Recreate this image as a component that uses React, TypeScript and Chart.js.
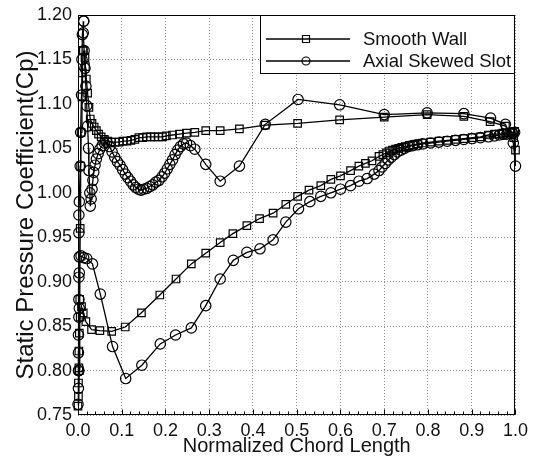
import React, { useEffect, useRef } from 'react';
import { Chart, registerables } from 'chart.js';

Chart.register(...registerables);

const FONT = '"Liberation Sans", Arial, Helvetica, sans-serif';

const seriesNames = ['Smooth Wall', 'Axial Skewed Slot'];
const xTitle = 'Normalized Chord Length';
const yTitle = 'Static Pressure Coefficient(Cp)';
const xTickValues = [0.0, 0.1, 0.2, 0.3, 0.4, 0.5, 0.6, 0.7, 0.8, 0.9, 1.0];
const yTickValues = [0.75, 0.8, 0.85, 0.9, 0.95, 1.0, 1.05, 1.1, 1.15, 1.2];
const xMinorStep = 0.02;

// ---- Smooth Wall (squares) ----
// upper branch: from leading-edge peak to trailing edge
const smoothUpperX = [0.012, 0.016, 0.017, 0.019, 0.022, 0.025, 0.028, 0.032, 0.037, 0.042, 0.047, 0.053, 0.060, 0.068, 0.076, 0.085, 0.094, 0.103, 0.112, 0.121, 0.130, 0.139, 0.148, 0.157, 0.166, 0.175, 0.184, 0.193, 0.202, 0.216, 0.232, 0.248, 0.267, 0.292, 0.325, 0.369, 0.428, 0.502, 0.598, 0.700, 0.798, 0.882, 0.942, 0.977, 0.996, 1.000];
const smoothUpperY = [1.160, 1.152, 1.142, 1.128, 1.112, 1.096, 1.083, 1.078, 1.074, 1.070, 1.066, 1.063, 1.060, 1.058, 1.057, 1.057, 1.057, 1.058, 1.058, 1.059, 1.060, 1.062, 1.062, 1.063, 1.063, 1.063, 1.063, 1.063, 1.064, 1.065, 1.066, 1.067, 1.068, 1.070, 1.070, 1.072, 1.076, 1.078, 1.082, 1.085, 1.088, 1.086, 1.080, 1.075, 1.062, 1.048];
// lower branch: from leading edge to trailing edge
const smoothLowerX = [0.000, 0.001, 0.001, 0.002, 0.002, 0.003, 0.005, 0.008, 0.012, 0.018, 0.031, 0.050, 0.077, 0.108, 0.145, 0.187, 0.224, 0.259, 0.292, 0.325, 0.354, 0.386, 0.415, 0.446, 0.475, 0.502, 0.528, 0.555, 0.578, 0.600, 0.623, 0.642, 0.657, 0.672, 0.688, 0.697, 0.705, 0.712, 0.719, 0.726, 0.733, 0.740, 0.748, 0.757, 0.767, 0.777, 0.788, 0.806, 0.825, 0.844, 0.863, 0.882, 0.901, 0.920, 0.938, 0.952, 0.963, 0.972, 0.980, 0.987, 0.993, 0.998];
const smoothLowerY = [0.760, 0.771, 0.786, 0.803, 0.822, 0.842, 0.860, 0.872, 0.865, 0.855, 0.846, 0.845, 0.844, 0.849, 0.865, 0.885, 0.903, 0.920, 0.932, 0.944, 0.954, 0.963, 0.971, 0.977, 0.987, 0.996, 1.003, 1.008, 1.015, 1.019, 1.025, 1.030, 1.033, 1.036, 1.041, 1.043, 1.045, 1.047, 1.048, 1.049, 1.050, 1.051, 1.052, 1.053, 1.054, 1.055, 1.056, 1.057, 1.058, 1.059, 1.060, 1.061, 1.062, 1.063, 1.065, 1.066, 1.066, 1.067, 1.067, 1.068, 1.068, 1.069];
// leading-edge rise back up to the peak
const smoothEdgeX = [0.003, 0.004, 0.005, 0.006, 0.007, 0.009, 0.010];
const smoothEdgeY = [0.800, 0.880, 0.960, 1.030, 1.068, 1.108, 1.135];

// ---- Axial Skewed Slot (circles) ----
const slotUpperX = [0.013, 0.012, 0.014, 0.016, 0.018, 0.020, 0.022, 0.024, 0.025, 0.027, 0.028, 0.030, 0.032, 0.034, 0.036, 0.039, 0.042, 0.046, 0.050, 0.055, 0.060, 0.066, 0.072, 0.078, 0.084, 0.090, 0.096, 0.102, 0.108, 0.114, 0.120, 0.126, 0.132, 0.138, 0.144, 0.150, 0.157, 0.164, 0.171, 0.178, 0.185, 0.192, 0.198, 0.204, 0.210, 0.216, 0.222, 0.228, 0.234, 0.241, 0.248, 0.257, 0.267, 0.292, 0.325, 0.369, 0.428, 0.503, 0.598, 0.700, 0.798, 0.882, 0.943, 0.977, 0.995, 1.000];
const slotUpperY = [1.193, 1.180, 1.160, 1.140, 1.120, 1.098, 1.075, 1.050, 1.025, 1.000, 0.985, 0.993, 1.004, 1.014, 1.023, 1.031, 1.038, 1.044, 1.049, 1.053, 1.056, 1.057, 1.052, 1.046, 1.040, 1.035, 1.031, 1.026, 1.021, 1.017, 1.013, 1.009, 1.006, 1.004, 1.003, 1.004, 1.005, 1.007, 1.009, 1.012, 1.014, 1.018, 1.022, 1.027, 1.032, 1.037, 1.043, 1.048, 1.052, 1.055, 1.056, 1.053, 1.049, 1.032, 1.013, 1.030, 1.077, 1.105, 1.099, 1.088, 1.090, 1.089, 1.084, 1.077, 1.056, 1.030];
const slotLowerX = [0.000, 0.001, 0.001, 0.001, 0.001, 0.002, 0.002, 0.002, 0.003, 0.007, 0.013, 0.020, 0.033, 0.051, 0.079, 0.109, 0.146, 0.188, 0.223, 0.259, 0.292, 0.325, 0.355, 0.386, 0.416, 0.446, 0.475, 0.504, 0.530, 0.555, 0.578, 0.600, 0.623, 0.642, 0.661, 0.677, 0.688, 0.695, 0.702, 0.709, 0.716, 0.723, 0.730, 0.738, 0.746, 0.755, 0.765, 0.776, 0.788, 0.806, 0.825, 0.844, 0.863, 0.882, 0.901, 0.920, 0.938, 0.952, 0.963, 0.972, 0.980, 0.987, 0.993, 0.998];
const slotLowerY = [0.762, 0.780, 0.800, 0.820, 0.840, 0.860, 0.880, 0.905, 0.928, 0.929, 0.927, 0.926, 0.920, 0.886, 0.827, 0.791, 0.806, 0.830, 0.840, 0.848, 0.873, 0.903, 0.924, 0.933, 0.937, 0.947, 0.967, 0.982, 0.990, 0.996, 1.000, 1.004, 1.008, 1.013, 1.016, 1.021, 1.025, 1.029, 1.033, 1.037, 1.040, 1.043, 1.046, 1.048, 1.050, 1.052, 1.053, 1.054, 1.055, 1.056, 1.057, 1.058, 1.059, 1.060, 1.061, 1.062, 1.063, 1.064, 1.065, 1.066, 1.066, 1.067, 1.067, 1.068];
const slotEdgeX = [0.002, 0.003, 0.003, 0.002, 0.002, 0.003, 0.005, 0.006, 0.008, 0.009, 0.010];
const slotEdgeY = [0.800, 0.870, 0.910, 0.955, 0.975, 0.990, 1.030, 1.068, 1.110, 1.150, 1.178];

function toPoints(xs: number[], ys: number[]) {
  return xs.map((x, i) => ({ x, y: ys[i] }));
}

function closedContour(ux: number[], uy: number[], lx: number[], ly: number[], ex: number[], ey: number[]) {
  const upper = toPoints(ux, uy);
  const lower = toPoints(lx, ly).reverse();
  const edge = toPoints(ex, ey);
  return [...upper, ...lower, ...edge, upper[0]];
}

const framePlugin = {
  id: 'frameAndMinorTicks',
  afterDatasetsDraw(chart: any) {
    const { ctx, chartArea: a, scales } = chart;
    ctx.save();
    ctx.strokeStyle = '#000';
    ctx.lineWidth = 1;
    ctx.setLineDash([]);
    const l = Math.round(a.left) + 0.5;
    const t = Math.round(a.top) + 0.5;
    const r = Math.round(a.right) - 0.5;
    const b = Math.round(a.bottom) - 0.5;
    ctx.strokeRect(l, t, r - l, b - t);
    const xs = scales.x;
    const n = Math.round((xs.max - xs.min) / xMinorStep);
    for (let i = 0; i <= n; i++) {
      const v = xs.min + i * xMinorStep;
      const px = Math.round(xs.getPixelForValue(v)) + 0.5;
      const len = i % 5 === 0 ? 5 : 3;
      ctx.beginPath();
      ctx.moveTo(px, b);
      ctx.lineTo(px, b - len);
      ctx.stroke();
    }
    ctx.restore();
  },
};

const legendPlugin = {
  id: 'boxedLegend',
  afterDraw(chart: any) {
    const { ctx, chartArea: a } = chart;
    const w = 255;
    const h = 58;
    const x0 = Math.round(a.right) - w;
    const y0 = Math.round(a.top);
    ctx.save();
    ctx.fillStyle = '#fff';
    ctx.fillRect(x0, y0, w, h);
    ctx.strokeStyle = '#000';
    ctx.lineWidth = 1;
    ctx.strokeRect(x0 + 0.5, y0 + 0.5, w - 1, h);
    chart.data.datasets.forEach((ds: any, i: number) => {
      const y = y0 + 24 + i * 22;
      ctx.strokeStyle = '#000';
      ctx.lineWidth = 1.3;
      ctx.beginPath();
      ctx.moveTo(x0 + 6, y);
      ctx.lineTo(x0 + 90, y);
      ctx.stroke();
      ctx.lineWidth = 1.2;
      const mx = x0 + 46;
      ctx.beginPath();
      if (ds.pointStyle === 'rect') {
        ctx.rect(mx - 3.5, y - 3.5, 7, 7);
      } else {
        ctx.arc(mx, y, 4, 0, Math.PI * 2);
      }
      ctx.stroke();
      ctx.fillStyle = '#111';
      ctx.font = `18.5px ${FONT}`;
      ctx.textBaseline = 'middle';
      ctx.textAlign = 'left';
      ctx.fillText(ds.label, x0 + 103, y + 1);
    });
    ctx.restore();
  },
};

export default function App() {
  const canvasRef = useRef<HTMLCanvasElement | null>(null);

  useEffect(() => {
    document.body.style.margin = '0';
    const canvas = canvasRef.current;
    if (!canvas) return;
    const chart = new Chart(canvas, {
      type: 'scatter',
      data: {
        datasets: [
          {
            label: seriesNames[0],
            data: closedContour(smoothUpperX, smoothUpperY, smoothLowerX, smoothLowerY, smoothEdgeX, smoothEdgeY),
            showLine: true,
            borderColor: '#000',
            borderWidth: 1.3,
            pointStyle: 'rect',
            pointRadius: 5.3,
            pointBorderWidth: 1.2,
            pointBorderColor: '#000',
            pointBackgroundColor: 'rgba(255,255,255,0)',
            tension: 0,
            clip: false,
          },
          {
            label: seriesNames[1],
            data: closedContour(slotUpperX, slotUpperY, slotLowerX, slotLowerY, slotEdgeX, slotEdgeY),
            showLine: true,
            borderColor: '#000',
            borderWidth: 1.3,
            pointStyle: 'circle',
            pointRadius: 5.2,
            pointBorderWidth: 1.2,
            pointBorderColor: '#000',
            pointBackgroundColor: 'rgba(255,255,255,0)',
            tension: 0,
            clip: false,
          },
        ],
      },
      options: {
        responsive: false,
        animation: false,
        devicePixelRatio: 1,
        layout: { padding: { left: 0, right: 18, top: 15, bottom: 0 } },
        plugins: {
          legend: { display: false },
          tooltip: { enabled: false },
        },
        scales: {
          x: {
            type: 'linear',
            min: 0,
            max: 1,
            afterBuildTicks: (s: any) => {
              s.ticks = xTickValues.map((v) => ({ value: v }));
            },
            afterFit: (s: any) => {
              s.height = 43;
            },
            ticks: {
              callback: (v: any) => Number(v).toFixed(1),
              font: { family: FONT, size: 18, lineHeight: 1 },
              color: '#111',
              padding: 7,
              maxRotation: 0,
              autoSkip: false,
            },
            grid: { color: '#8c8c8c', lineWidth: 1, drawTicks: false },
            border: { display: false, dash: [1, 2] },
            title: {
              display: true,
              text: xTitle,
              font: { family: FONT, size: 20, lineHeight: 1 },
              color: '#111',
              padding: { top: 0, bottom: 2 },
            },
          },
          y: {
            type: 'linear',
            min: 0.75,
            max: 1.2,
            afterBuildTicks: (s: any) => {
              s.ticks = yTickValues.map((v) => ({ value: v }));
            },
            afterFit: (s: any) => {
              s.width = 78;
            },
            ticks: {
              callback: (v: any) => Number(v).toFixed(2),
              font: { family: FONT, size: 18, lineHeight: 1 },
              color: '#111',
              padding: 6,
              autoSkip: false,
            },
            grid: { color: '#8c8c8c', lineWidth: 1, drawTicks: false },
            border: { display: false, dash: [1, 2] },
            title: {
              display: true,
              text: yTitle,
              font: { family: FONT, size: 24, lineHeight: 1 },
              color: '#111',
              padding: { top: 14, bottom: 0 },
            },
          },
        },
      },
      plugins: [framePlugin, legendPlugin],
    });
    return () => chart.destroy();
  }, []);

  return (
    <div style={{ width: 535, height: 458 }}>
      <canvas ref={canvasRef} width={535} height={458} style={{ display: 'block' }} />
    </div>
  );
}
